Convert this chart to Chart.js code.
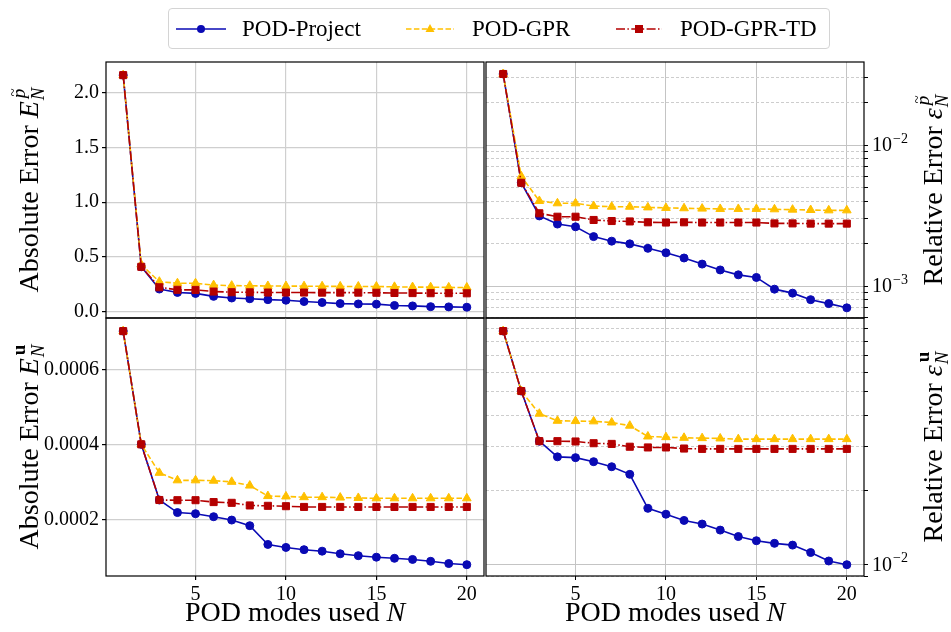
<!DOCTYPE html>
<html>
<head>
<meta charset="utf-8">
<script src="https://cdn.jsdelivr.net/npm/chart.js@4.4.1/dist/chart.umd.min.js"></script>
<style>
  body { margin: 0; background: #fff; }
  #wrap { position: relative; width: 951px; height: 632px; }
  #wrap canvas { position: absolute; left: 0; top: 0; }
  .legend {
    position: absolute; left: 168px; top: 8px; width: 660px; height: 39px;
    border: 1px solid #d4d4d4; border-radius: 4px; background: #fff;
    font-family: "Liberation Serif", serif; font-size: 23px; color: #000;
  }
  .legend span { position: absolute; top: 0; line-height: 40px; white-space: nowrap; }
  .legend svg { position: absolute; top: 9px; }
</style>
</head>
<body>
<div id="wrap">
  <canvas id="tl" width="951" height="632"></canvas>
  <canvas id="tr" width="951" height="632"></canvas>
  <canvas id="bl" width="951" height="632"></canvas>
  <canvas id="br" width="951" height="632"></canvas>
  <div class="legend">
    <svg style="left:7px" width="50" height="22">
      <line x1="0" y1="11" x2="50" y2="11" stroke="#0a0ab4" stroke-width="1.6"/>
      <circle cx="25" cy="11" r="4" fill="#0a0ab4"/>
    </svg>
    <span style="left:73px">POD-Project</span>
    <svg style="left:237px" width="48" height="22">
      <line x1="0" y1="11" x2="48" y2="11" stroke="#ffc000" stroke-width="1.6" stroke-dasharray="5.5 2.4"/>
      <polygon points="24,6 28.5,14 19.5,14" fill="#ffc000"/>
    </svg>
    <span style="left:303px">POD-GPR</span>
    <svg style="left:447px" width="46" height="22">
      <line x1="0" y1="11" x2="46" y2="11" stroke="#b40000" stroke-width="1.6" stroke-dasharray="9 2.4 1.5 2.4"/>
      <rect x="19" y="7" width="8" height="8" fill="#b40000"/>
    </svg>
    <span style="left:511px">POD-GPR-TD</span>
  </div>
</div>
<script>
// number of POD modes
const modes = [1, 2, 3, 4, 5, 6, 7, 8, 9, 10, 11, 12, 13, 14, 15, 16, 17, 18, 19, 20]

// absolute error of p
const absPProject = [2.16, 0.41, 0.207, 0.176, 0.167, 0.14, 0.125, 0.118, 0.11, 0.105, 0.093, 0.084, 0.074, 0.071, 0.069, 0.057, 0.053, 0.046, 0.044, 0.041]
const absPGPR = [2.16, 0.43, 0.274, 0.26, 0.26, 0.243, 0.238, 0.237, 0.235, 0.234, 0.233, 0.232, 0.231, 0.23, 0.23, 0.227, 0.225, 0.224, 0.222, 0.221]
const absPTD = [2.16, 0.41, 0.223, 0.2, 0.199, 0.184, 0.178, 0.177, 0.175, 0.175, 0.175, 0.174, 0.174, 0.174, 0.173, 0.171, 0.17, 0.169, 0.169, 0.168]

// relative error of p
const relPProject = [3.19e-2, 5.4e-3, 3.14e-3, 2.75e-3, 2.63e-3, 2.24e-3, 2.08e-3, 1.99e-3, 1.85e-3, 1.72e-3, 1.58e-3, 1.43e-3, 1.30e-3, 1.20e-3, 1.15e-3, 9.5e-4, 8.9e-4, 8.0e-4, 7.5e-4, 7.0e-4]
const relPGPR = [3.19e-2, 6.0e-3, 4.01e-3, 3.86e-3, 3.86e-3, 3.69e-3, 3.65e-3, 3.65e-3, 3.61e-3, 3.58e-3, 3.56e-3, 3.54e-3, 3.52e-3, 3.52e-3, 3.52e-3, 3.5e-3, 3.48e-3, 3.46e-3, 3.44e-3, 3.44e-3]
const relPTD = [3.19e-2, 5.4e-3, 3.28e-3, 3.1e-3, 3.1e-3, 2.94e-3, 2.89e-3, 2.87e-3, 2.83e-3, 2.82e-3, 2.83e-3, 2.82e-3, 2.82e-3, 2.82e-3, 2.82e-3, 2.78e-3, 2.78e-3, 2.77e-3, 2.77e-3, 2.77e-3]

// absolute error of u
const absUProject = [7.02e-4, 4.0e-4, 2.515e-4, 2.18e-4, 2.15e-4, 2.07e-4, 1.98e-4, 1.83e-4, 1.33e-4, 1.25e-4, 1.19e-4, 1.15e-4, 1.08e-4, 1.03e-4, 0.99e-4, 0.96e-4, 0.93e-4, 0.88e-4, 0.82e-4, 0.79e-4]
const absUGPR = [7.02e-4, 4.0e-4, 3.24e-4, 3.04e-4, 3.04e-4, 3.03e-4, 3.0e-4, 2.9e-4, 2.62e-4, 2.61e-4, 2.59e-4, 2.59e-4, 2.58e-4, 2.57e-4, 2.56e-4, 2.56e-4, 2.56e-4, 2.56e-4, 2.56e-4, 2.56e-4]
const absUTD = [7.02e-4, 4.0e-4, 2.515e-4, 2.51e-4, 2.51e-4, 2.46e-4, 2.44e-4, 2.37e-4, 2.36e-4, 2.35e-4, 2.33e-4, 2.33e-4, 2.33e-4, 2.33e-4, 2.33e-4, 2.33e-4, 2.33e-4, 2.33e-4, 2.33e-4, 2.33e-4]

// relative error of u
const relUProject = [8.81e-2, 5.04e-2, 3.16e-2, 2.73e-2, 2.71e-2, 2.61e-2, 2.49e-2, 2.32e-2, 1.69e-2, 1.6e-2, 1.51e-2, 1.46e-2, 1.38e-2, 1.3e-2, 1.25e-2, 1.22e-2, 1.2e-2, 1.12e-2, 1.035e-2, 1.0e-2]
const relUGPR = [8.81e-2, 5.04e-2, 4.08e-2, 3.82e-2, 3.81e-2, 3.8e-2, 3.76e-2, 3.65e-2, 3.3e-2, 3.28e-2, 3.26e-2, 3.25e-2, 3.24e-2, 3.22e-2, 3.22e-2, 3.22e-2, 3.22e-2, 3.22e-2, 3.22e-2, 3.22e-2]
const relUTD = [8.81e-2, 5.04e-2, 3.16e-2, 3.16e-2, 3.15e-2, 3.1e-2, 3.08e-2, 3.0e-2, 2.98e-2, 2.98e-2, 2.95e-2, 2.94e-2, 2.94e-2, 2.94e-2, 2.94e-2, 2.94e-2, 2.94e-2, 2.94e-2, 2.94e-2, 2.94e-2]

// tick labels
const xTicks = [5, 10, 15, 20]
const absPTicks = [0, 0.5, 1.0, 1.5, 2.0]
const absUTicks = [0.0002, 0.0004, 0.0006]

const blue = "#0a0ab4"
const gold = "#ffc000"
const red = "#b40000"
const serif = '"Liberation Serif", "Times New Roman", serif'

Chart.defaults.font.family = serif
Chart.defaults.font.size = 20
Chart.defaults.color = "#000"

const W = 951
const H = 632
const XH = 30 // fixed x axis box height

const pts = (vals) => modes.map((n, i) => ({ x: n, y: vals[i] }))

function series(proj, gpr, td) {
  return [
    {
      label: "POD-Project", data: pts(proj), borderColor: blue, backgroundColor: blue,
      borderWidth: 1.6, pointStyle: "circle", pointRadius: 4, pointBorderWidth: 1, order: 3,
    },
    {
      label: "POD-GPR", data: pts(gpr), borderColor: gold, backgroundColor: gold,
      borderWidth: 1.6, borderDash: [5.5, 2.4], pointStyle: "triangle", pointRadius: 5, pointBorderWidth: 1, order: 2,
    },
    {
      label: "POD-GPR-TD", data: pts(td), borderColor: red, backgroundColor: red,
      borderWidth: 1.6, borderDash: [9, 2.4, 1.5, 2.4], pointStyle: "rect", pointRadius: 5, pointBorderWidth: 1, order: 1,
    },
  ]
}

const isDecade = (v) => Math.abs(Math.log10(v) - Math.round(Math.log10(v))) < 1e-9

function logTicks(min, max) {
  const out = []
  for (let e = Math.floor(Math.log10(min)); e <= Math.ceil(Math.log10(max)); e++) {
    for (let m = 1; m <= 9; m++) {
      const v = m * Math.pow(10, e)
      if (v >= min && v <= max) out.push({ value: v })
    }
  }
  return out
}

// draws "word E_N^p~" rotated, baseline at bx
function drawYTitle(ctx, word, sym, bold, bx, cy) {
  const fBase = "28px " + serif
  const fSym = "italic 28px " + serif
  const fSub = "italic 19px " + serif
  const fSup = (bold ? "bold 19px " : "italic 19px ") + serif
  const sup = bold ? "u" : "p"
  ctx.font = fBase
  const w1 = ctx.measureText(word + " ").width
  ctx.font = fSym
  const w2 = ctx.measureText(sym).width
  ctx.font = fSub
  const w3 = ctx.measureText("N").width
  ctx.font = fSup
  const w4 = ctx.measureText(sup).width
  const total = w1 + w2 + 1 + Math.max(w3, w4 + 2)
  ctx.save()
  ctx.translate(bx, cy)
  ctx.rotate(-Math.PI / 2)
  ctx.fillStyle = "#000"
  ctx.textAlign = "left"
  ctx.textBaseline = "alphabetic"
  let x = -total / 2
  ctx.font = fBase
  ctx.fillText(word + " ", x, 0)
  x += w1
  ctx.font = fSym
  ctx.fillText(sym, x, 0)
  x += w2 + 1
  ctx.font = fSub
  ctx.fillText("N", x, 6)
  ctx.font = fSup
  ctx.fillText(sup, x + 2, -13)
  if (!bold) {
    ctx.font = "15px " + serif
    const wt = ctx.measureText("~").width
    ctx.fillText("~", x + 3 + (w4 - wt) / 2, -20)
  }
  ctx.restore()
}

function drawXTitle(ctx, cx, by) {
  const fBase = "28px " + serif
  const fIt = "italic 28px " + serif
  ctx.font = fBase
  const w1 = ctx.measureText("POD modes used ").width
  ctx.font = fIt
  const w2 = ctx.measureText("N").width
  const x = cx - (w1 + w2) / 2
  ctx.fillStyle = "#000"
  ctx.textAlign = "left"
  ctx.textBaseline = "alphabetic"
  ctx.font = fBase
  ctx.fillText("POD modes used ", x, by)
  ctx.font = fIt
  ctx.fillText("N", x + w1, by)
}

function decor(cfg) {
  return {
    id: "decor",
    afterDraw(chart) {
      const { ctx, chartArea: a } = chart
      ctx.save()
      ctx.strokeStyle = "#000"
      ctx.lineWidth = 1.2
      ctx.strokeRect(a.left, a.top, a.right - a.left, a.bottom - a.top)
      if (cfg.log) {
        const s = chart.scales.y
        s.ticks.forEach((t) => {
          if (!isDecade(t.value)) return
          const y = s.getPixelForValue(t.value)
          ctx.fillStyle = "#000"
          ctx.textAlign = "left"
          ctx.textBaseline = "middle"
          ctx.font = "20px " + serif
          ctx.fillText("10", a.right + 8, y + 1)
          const w = ctx.measureText("10").width
          ctx.font = "14px " + serif
          ctx.fillText("\u2212" + Math.abs(Math.round(Math.log10(t.value))), a.right + 9 + w, y - 6)
        })
      }
      drawYTitle(ctx, cfg.word, cfg.sym, cfg.bold, cfg.titleX, (a.top + a.bottom) / 2)
      if (cfg.xTitle) drawXTitle(ctx, (a.left + a.right) / 2, 621)
      ctx.restore()
    },
  }
}

function makePanel(id, area, cfg) {
  const right = cfg.right
  const bottom = cfg.bottom
  const yw = right ? 60 : 100 // fixed y axis box width
  const gridColor = "#cfcfcf"
  const yScale = cfg.log
    ? {
        type: "logarithmic",
        position: "right",
        bounds: "data",
        min: cfg.min,
        max: cfg.max,
        afterBuildTicks: (s) => { s.ticks = logTicks(cfg.min, cfg.max) },
        afterFit: (s) => { s.width = yw },
        ticks: { display: false },
        grid: {
          color: (c) => (c.tick && isDecade(c.tick.value) ? "#c4c4c4" : "#cdcdcd"),
          lineWidth: 1,
          tickColor: "#000",
          tickLength: 4,
        },
        border: { display: false, dash: (c) => (c.tick && !isDecade(c.tick.value) ? [3, 2] : []) },
      }
    : {
        type: "linear",
        position: "left",
        bounds: "data",
        min: cfg.min,
        max: cfg.max,
        afterBuildTicks: (s) => { s.ticks = cfg.ticks.map((v) => ({ value: v })) },
        afterFit: (s) => { s.width = yw },
        ticks: { padding: 3, callback: (v) => v.toFixed(cfg.digits) },
        grid: { color: gridColor, lineWidth: 1.2, tickColor: "#000", tickLength: 4 },
        border: { display: false },
      }

  return new Chart(document.getElementById(id), {
    type: "line",
    data: { datasets: series(cfg.proj, cfg.gpr, cfg.td) },
    options: {
      responsive: false,
      animation: false,
      events: [],
      layout: {
        padding: {
          left: right ? area.l : area.l - yw,
          right: right ? W - area.r - yw : W - area.r,
          top: area.t,
          bottom: H - area.b - XH,
        },
      },
      elements: { line: { tension: 0 } },
      plugins: { legend: { display: false }, tooltip: { enabled: false } },
      scales: {
        x: {
          type: "linear",
          bounds: "data",
          min: 0.05,
          max: 20.95,
          afterBuildTicks: (s) => { s.ticks = xTicks.map((v) => ({ value: v })) },
          afterFit: (s) => { s.height = XH },
          ticks: { display: bottom, padding: 3, maxRotation: 0, callback: (v) => String(v) },
          grid: { color: cfg.log ? "#c4c4c4" : gridColor, lineWidth: cfg.log ? 1 : 1.2, tickColor: "#000", tickLength: 4, drawTicks: bottom },
          border: { display: false },
        },
        y: yScale,
      },
    },
    plugins: [decor(cfg)],
  })
}

makePanel("tl", { l: 106, t: 62, r: 484, b: 318 }, {
  right: false, bottom: false, log: false, min: -0.0575, max: 2.28, ticks: absPTicks, digits: 1,
  proj: absPProject, gpr: absPGPR, td: absPTD,
  word: "Absolute Error", sym: "E", bold: false, titleX: 38,
})
makePanel("tr", { l: 486, t: 62, r: 864, b: 318 }, {
  right: true, bottom: false, log: true, min: 5.93e-4, max: 3.88e-2,
  proj: relPProject, gpr: relPGPR, td: relPTD,
  word: "Relative Error", sym: "\u03b5", bold: false, titleX: 942,
})
makePanel("bl", { l: 106, t: 318, r: 484, b: 576 }, {
  right: false, bottom: true, log: false, min: 0.488e-4, max: 7.37e-4, ticks: absUTicks, digits: 4,
  proj: absUProject, gpr: absUGPR, td: absUTD,
  word: "Absolute Error", sym: "E", bold: true, titleX: 38, xTitle: true,
})
makePanel("br", { l: 486, t: 318, r: 864, b: 576 }, {
  right: true, bottom: true, log: true, min: 0.009, max: 0.0995,
  proj: relUProject, gpr: relUGPR, td: relUTD,
  word: "Relative Error", sym: "\u03b5", bold: true, titleX: 942, xTitle: true,
})
</script>
</body>
</html>
